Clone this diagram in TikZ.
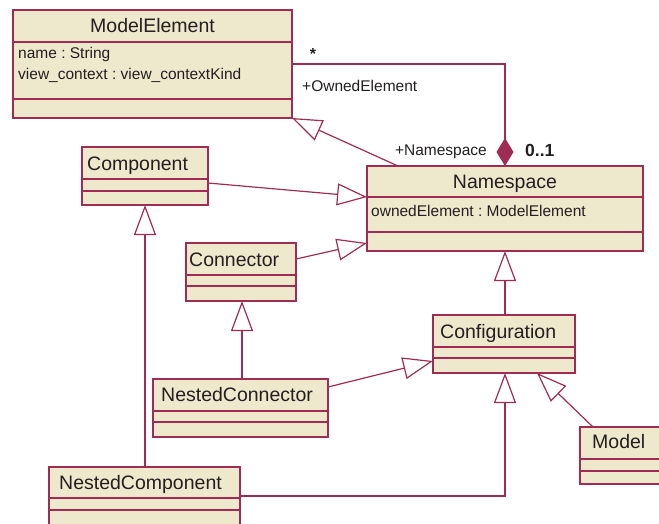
\documentclass[tikz,border=0pt]{standalone}
\usepackage{fontspec}
\setmainfont{Liberation Sans}
\usetikzlibrary{arrows.meta}
\definecolor{umlline}{RGB}{160,44,84}
\definecolor{umlfill}{RGB}{238,232,204}
\definecolor{umltext}{RGB}{35,31,32}
\frenchspacing
\begin{document}
\begin{tikzpicture}[x=1pt, y=-1pt,
    cls/.style={draw=umlline, fill=umlfill, line width=1.4pt, anchor=north west, inner sep=0pt, outer sep=0pt},
    sep/.style={draw=umlline, line width=1.1pt},
    cname/.style={text=umltext, font=\fontsize{19.5}{22}\selectfont, inner sep=0pt},
    attr/.style={text=umltext, font=\fontsize{15.5}{18}\selectfont, inner sep=0pt, anchor=base west},
    link/.style={draw=umlline, line width=1.2pt},
    gen/.style={link, -{Triangle[open, length=30pt, width=22pt]}},
    ]
    \useasboundingbox (0,0) rectangle (659,523);
    \clip (0,0) rectangle (659,523);

    % classes
    \node[cls, minimum width=279pt, minimum height=108pt] (ME) at (13,10) {};
    \draw[sep] (ME.west |- 0,42) -- (ME.east |- 0,42);
    \draw[sep] (ME.west |- 0,99) -- (ME.east |- 0,99);
    \node[cls, minimum width=276pt, minimum height=85pt] (NS) at (367,166) {};
    \draw[sep] (NS.west |- 0,197) -- (NS.east |- 0,197);
    \draw[sep] (NS.west |- 0,232) -- (NS.east |- 0,232);
    \node[cls, minimum width=126pt, minimum height=58pt] (CO) at (82,147) {};
    \draw[sep] (CO.west |- 0,179) -- (CO.east |- 0,179);
    \draw[sep] (CO.west |- 0,191) -- (CO.east |- 0,191);
    \node[cls, minimum width=110pt, minimum height=58pt] (CN) at (186,243) {};
    \draw[sep] (CN.west |- 0,275) -- (CN.east |- 0,275);
    \draw[sep] (CN.west |- 0,286) -- (CN.east |- 0,286);
    \node[cls, minimum width=142pt, minimum height=58pt] (CF) at (433,315) {};
    \draw[sep] (CF.west |- 0,347) -- (CF.east |- 0,347);
    \draw[sep] (CF.west |- 0,358) -- (CF.east |- 0,358);
    \node[cls, minimum width=175pt, minimum height=58pt] (NCn) at (153,379) {};
    \draw[sep] (NCn.west |- 0,411) -- (NCn.east |- 0,411);
    \draw[sep] (NCn.west |- 0,422) -- (NCn.east |- 0,422);
    \node[cls, minimum width=100pt, minimum height=57pt] (MO) at (580,427) {};
    \draw[sep] (MO.west |- 0,459) -- (MO.east |- 0,459);
    \draw[sep] (MO.west |- 0,471) -- (MO.east |- 0,471);
    \node[cls, minimum width=191pt, minimum height=70pt] (NCo) at (49,467) {};
    \draw[sep] (NCo.west |- 0,498) -- (NCo.east |- 0,498);
    \draw[sep] (NCo.west |- 0,510) -- (NCo.east |- 0,510);

    % names and attributes
    \node[cname, anchor=base] (MEn) at (152.5,32) {ModelElement};
    \node[attr] (MEa1) at (18,58) {name : String};
    \node[attr] (MEa2) at (18,79) {view\_context : view\_contextKind};
    \node[cname, anchor=base] (NSn) at (505,188) {Namespace};
    \node[attr] (NSa1) at (371,216) {ownedElement : ModelElement};
    \node[cname, anchor=base west] (COn) at (87,170) {Component};
    \node[cname, anchor=base west] (CNn) at (189,266) {Connector};
    \node[cname, anchor=base west] (CFn) at (440,338) {Configuration};
    \node[cname, anchor=base west] (NCnn) at (161,401) {NestedConnector};
    \node[cname, anchor=base west] (MOn) at (592,448) {Model};
    \node[cname, anchor=base west] (NCon) at (59,489) {NestedComponent};

    % connectors
    \draw[link, -{Diamond[length=28pt, width=17pt, fill=umlline]}] (ME.east |- 0,64) -| (NS.north);
    \draw[gen] (NS.north -| 398,0) -- (ME.south east);
    \draw[gen] (CO.east |- 0,183) -- (NS.west |- 0,197);
    \draw[gen] (CN.east |- 0,259) -- (NS.west |- 0,243);
    \draw[gen] (CF.north -| 505,0) -- (NS.south -| 505,0);
    \draw[gen] (NCo.north -| 145,0) -- (CO.south -| 145,0);
    \draw[gen] (NCn.north -| 242,0) -- (CN.south -| 242,0);
    \draw[gen] (NCn.east |- 0,387) -- (CF.west |- 0,361);
    \draw[gen] (NCo.east |- 0,496) -| (CF.south -| 505,0);
    \draw[gen] (MO.north -| 593,0) -- (CF.south -| 537,0);

    % association labels
    \node[text=umltext, font=\fontsize{16}{18}\selectfont\bfseries, inner sep=0pt, anchor=base] (lblStar) at (313,59) {*};
    \node[attr] (lblOwned) at (302,91) {+OwnedElement};
    \node[attr, anchor=base east] (lblNs) at (487,155) {+Namespace};
    \node[attr, font=\fontsize{17.5}{20}\selectfont\bfseries] (lblMult) at (525,156) {0..1};
\end{tikzpicture}
\end{document}
